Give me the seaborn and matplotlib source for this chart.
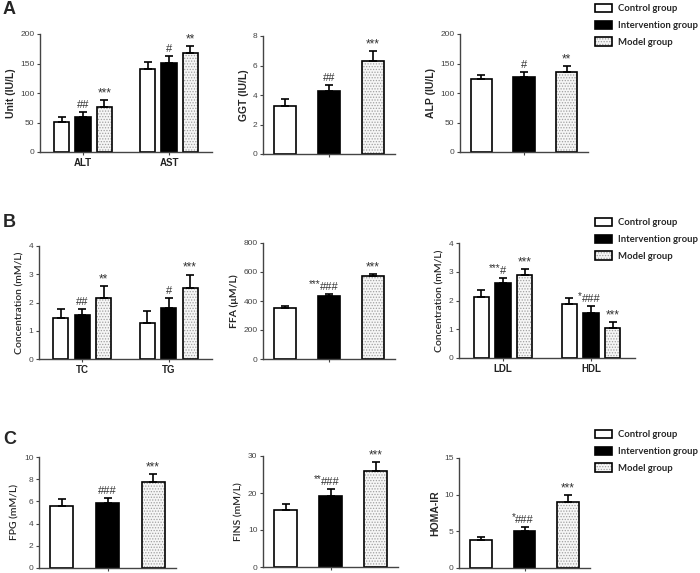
import matplotlib
matplotlib.use("Agg")
import matplotlib.pyplot as plt
import matplotlib.colors as mcolors
from matplotlib.container import BarContainer
from matplotlib.patches import Patch
import pandas as pd
import seaborn as sns

groups = ["Control group", "Intervention group", "Model group"]
group_colors = ["white", "black", "#f6f6f6"]

# A: liver enzymes
liver_params = ["ALT", "AST"]
liver_mean = [[51, 59, 76], [141, 151, 168]]
liver_err = [[9, 8, 12], [11, 11, 12]]
liver_sig = [["", "##", "***"], ["", "#", "**"]]

ggt_mean = [3.27, 4.3, 6.33]
ggt_err = [0.47, 0.35, 0.67]
ggt_sig = ["", "##", "***"]

alp_mean = [123, 127, 136]
alp_err = [8, 9, 10]
alp_sig = ["", "#", "**"]

# B: lipids
lipid_params = ["TC", "TG"]
lipid_mean = [[1.44, 1.54, 2.17], [1.26, 1.79, 2.5]]
lipid_err = [[0.32, 0.23, 0.41], [0.45, 0.37, 0.49]]
lipid_sig = [["", "##", "**"], ["", "#", "***"]]

ffa_mean = [354, 435, 569]
ffa_err = [11, 11, 16]
ffa_sig = ["", "***###", "***"]

lipo_params = ["LDL", "HDL"]
lipo_mean = [[2.12, 2.62, 2.88], [1.89, 1.57, 1.04]]
lipo_err = [[0.26, 0.17, 0.2], [0.19, 0.24, 0.22]]
lipo_sig = [["", "***#", "***"], ["", "*###", "***"]]

# C: glucose / insulin
fpg_mean = [5.6, 5.86, 7.72]
fpg_err = [0.6, 0.48, 0.75]
fpg_sig = ["", "###", "***"]

fins_mean = [15.4, 19.25, 25.96]
fins_err = [1.7, 1.7, 2.5]
fins_sig = ["", "**###", "***"]

homa_mean = [3.82, 5.05, 9.0]
homa_err = [0.36, 0.55, 0.95]
homa_sig = ["", "*###", "***"]

sns.set_style("ticks")
plt.rcParams["font.family"] = ["Liberation Sans", "DejaVu Sans"]
plt.rcParams["hatch.linewidth"] = 0.6

W, H = 700, 573
fig = plt.figure(figsize=(7, 5.73), dpi=100)


def rect(x0, x1, y0, y1):
    # pixel box -> figure fraction
    return [x0 / W, 1 - y1 / H, (x1 - x0) / W, (y1 - y0) / H]


def stipple(p):
    p.set_hatch("......")
    if hasattr(p, "set_hatchcolor"):
        p.set_hatchcolor("#a0a0a0")
    else:
        p._hatch_color = mcolors.to_rgba("#a0a0a0")


def mark(ax, x, y, sig):
    stars = sig.rstrip("#")
    hashes = sig[len(stars):]
    if hashes:
        h = ax.annotate(hashes, (x, y), xytext=(0, 1.5), textcoords="offset points",
                        ha="center", va="bottom", fontsize=8, color="#333333")
        if stars:
            ax.annotate(stars, (0.02, 0.3), xycoords=h, ha="right", va="bottom",
                        fontsize=7, color="#333333")
    elif stars:
        ax.annotate(stars, (x, y), xytext=(0, 0.5), textcoords="offset points",
                    ha="center", va="bottom", fontsize=8.5, color="#333333")


def panel(box, means, errs, sigs, yticks, ylabel, params=None,
          ylab_font="Liberation Sans", ylab_weight="bold"):
    ax = fig.add_axes(rect(*box))
    if params is None:
        df = pd.DataFrame({"group": groups, "value": means})
        sns.barplot(data=df, x="group", y="value", hue="group", hue_order=groups,
                    palette=group_colors, edgecolor="black", linewidth=1.2,
                    width=0.5, errorbar=None, legend=False, ax=ax)
    else:
        rows = []
        for p, m in zip(params, means):
            for g, v in zip(groups, m):
                rows.append({"param": p, "group": g, "value": v})
        df = pd.DataFrame(rows)
        sns.barplot(data=df, x="param", y="value", hue="group", hue_order=groups,
                    palette=group_colors, edgecolor="black", linewidth=1.2,
                    width=0.74, gap=0.29, errorbar=None, legend=False, ax=ax)

    bars = [c for c in ax.containers if isinstance(c, BarContainer)]
    for gi, cont in enumerate(bars):
        for j, bar in enumerate(cont.patches):
            if gi == 2:
                stipple(bar)
            x = bar.get_x() + bar.get_width() / 2
            top = bar.get_height()
            if params is None:
                e, s = errs[gi], sigs[gi]
            else:
                e, s = errs[j][gi], sigs[j][gi]
            ax.errorbar([x], [top], yerr=[[0], [e]], fmt="none", ecolor="black",
                        elinewidth=1.2, capsize=3.2, capthick=1.2, zorder=1)
            mark(ax, x, top + e, s)

    ax.set_ylim(yticks[0], yticks[-1])
    ax.set_yticks(yticks)
    ax.set_yticklabels([str(t) for t in yticks], fontsize=6, color="#444444")
    ax.set_xlim(-0.5, len(params) - 0.5 if params else 2.5)
    if params is None:
        ax.set_xticks([1])
        ax.set_xticklabels([""])
    else:
        ax.set_xticklabels(params, fontsize=7, fontweight="bold", color="#222222")
    ax.set_xlabel("")
    ax.set_ylabel(ylabel, family=ylab_font, fontweight=ylab_weight, fontsize=7.5,
                  labelpad=3)
    for side in ("top", "right"):
        ax.spines[side].set_visible(False)
    for side in ("left", "bottom"):
        ax.spines[side].set_color("#444444")
        ax.spines[side].set_linewidth(1.0)
    ax.tick_params(axis="both", length=2.5, width=0.8, color="#444444", pad=1.5)
    return ax


panel((40, 212, 34, 152), liver_mean, liver_err, liver_sig, [0, 50, 100, 150, 200],
      "Unit (IU/L)", params=liver_params)
panel((263, 395, 36, 154), ggt_mean, ggt_err, ggt_sig, [0, 2, 4, 6, 8], "GGT (IU/L)")
panel((460, 588, 34, 152), alp_mean, alp_err, alp_sig, [0, 50, 100, 150, 200],
      "ALP (IU/L)")

panel((39, 212, 246, 359), lipid_mean, lipid_err, lipid_sig, [0, 1, 2, 3, 4],
      "Concentration (mM/L)", params=lipid_params, ylab_font="Lato",
      ylab_weight="semibold")
panel((263, 395, 243, 359), ffa_mean, ffa_err, ffa_sig, [0, 200, 400, 600, 800],
      "FFA (\u03bcM/L)", ylab_font="Lato")
panel((459, 635, 243, 358), lipo_mean, lipo_err, lipo_sig, [0, 1, 2, 3, 4],
      "Concentration (mM/L)", params=lipo_params, ylab_font="Lato",
      ylab_weight="semibold")

panel((39, 176, 457, 568), fpg_mean, fpg_err, fpg_sig, [0, 2, 4, 6, 8, 10],
      "FPG (mM/L)", ylab_font="Lato", ylab_weight="semibold")
panel((263, 398, 456, 567), fins_mean, fins_err, fins_sig, [0, 10, 20, 30],
      "FINS (mM/L)", ylab_font="Lato", ylab_weight="semibold")
panel((459, 590, 458, 568), homa_mean, homa_err, homa_sig, [0, 5, 10, 15],
      "HOMA-IR")

# panel letters
for letter, ypix in (("A", 9), ("B", 222), ("C", 439)):
    fig.text(3 / W, 1 - ypix / H, letter, fontsize=13, fontweight="bold",
             va="center", ha="left")

# legends
for ytop in (4, 218, 430):
    handles = []
    for i, c in enumerate(group_colors):
        p = Patch(facecolor=c, edgecolor="black", linewidth=1.2)
        if i == 2:
            stipple(p)
        handles.append(p)
    fig.legend(handles, groups, loc="upper left",
               bbox_to_anchor=(595 / W, 1 - ytop / H), frameon=False,
               borderpad=0, borderaxespad=0, handlelength=1.75, handleheight=1.0,
               handletextpad=0.7, labelspacing=0.75,
               prop={"family": "Lato", "weight": "bold", "size": 6.8})

fig.savefig("out.png", dpi=100)
